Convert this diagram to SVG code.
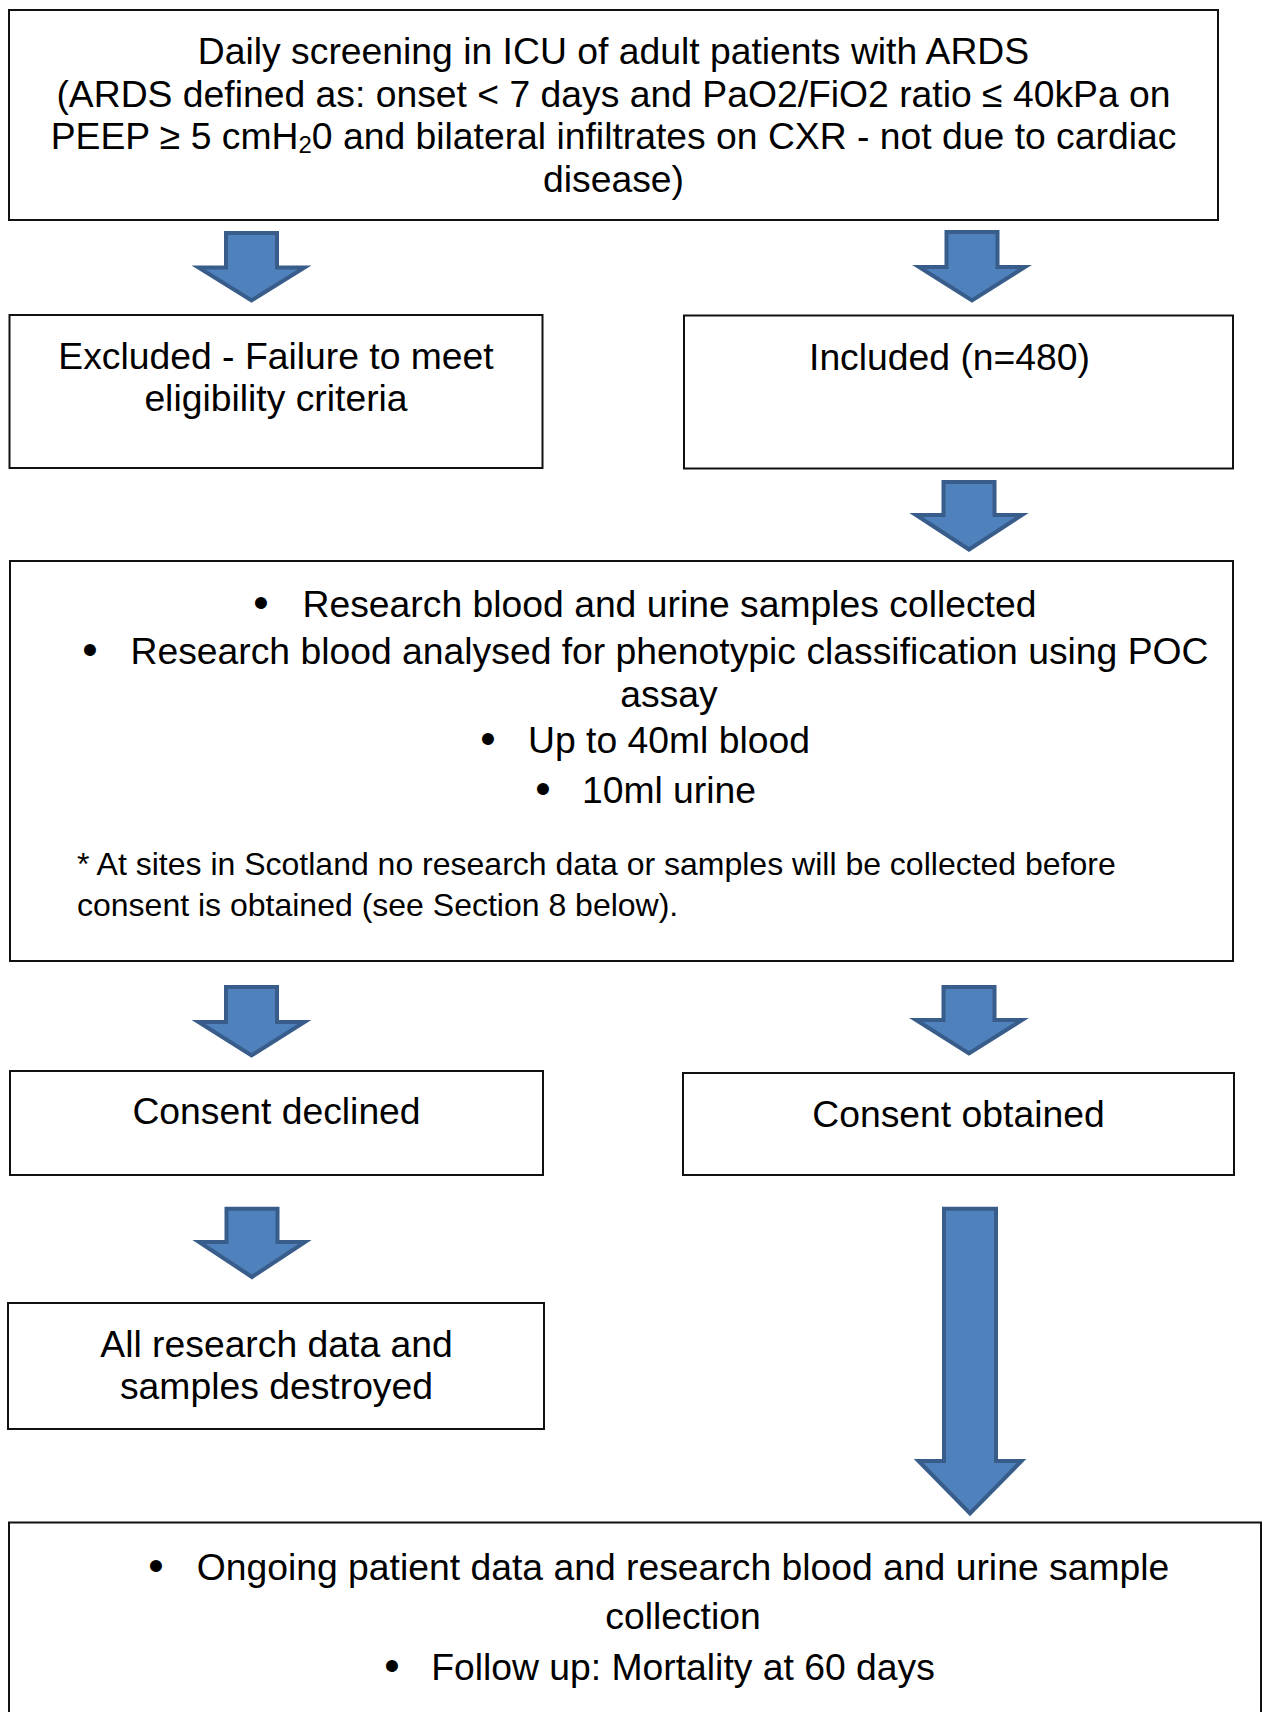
<svg xmlns="http://www.w3.org/2000/svg" width="1267" height="1712" viewBox="0 0 1267 1712">
<style>
.box{fill:#fff;stroke:#111;stroke-width:2}
.arr{fill:#4F81BD;stroke:#385D8A;stroke-width:4;stroke-linejoin:miter}
text{font-family:"Liberation Sans",Arial,sans-serif;fill:#000}
.t{font-size:37.3px;text-anchor:middle}
.b{font-size:44px;text-anchor:middle}
.f{font-size:32px}
</style>
<rect width="1267" height="1712" fill="#fff"/>
<g id="connectors">
<path class="arr" d="M226 233H277V267.5H304.5L251.5 300.5L198.5 267.5H226Z"/>
<path class="arr" d="M946.5 232H997.5V267H1025L972 300.5L919 267H946.5Z"/>
<path class="arr" d="M943.5 482H994.5V515H1022L969 549.5L916 515H943.5Z"/>
<path class="arr" d="M226 987H277V1022H304.5L251.5 1055.5L198.5 1022H226Z"/>
<path class="arr" d="M943.5 987H994.5V1020H1022L969 1053.5L916 1020H943.5Z"/>
<path class="arr" d="M226.5 1208.7H277.5V1242H305L252 1277L199 1242H226.5Z"/>
<path class="arr" d="M944 1208.7H996V1461H1021.5L970 1513.4L918.5 1461H944Z"/>
</g>
<g id="screening">
<rect class="box" x="9" y="10" width="1209" height="210"/>
<text class="t" x="613.5" y="64">Daily screening in ICU of adult patients with ARDS</text>
<text class="t" x="613.5" y="106.7">(ARDS defined as: onset &lt; 7 days and PaO2/FiO2 ratio ≤ 40kPa on</text>
<text class="t" x="613.5" y="149.3">PEEP ≥ 5 cmH<tspan font-size="24" dy="4">2</tspan><tspan dy="-4">0 and bilateral infiltrates on CXR - not due to cardiac</tspan></text>
<text class="t" x="613.5" y="192">disease)</text>
</g>
<g id="excluded">
<rect class="box" x="9.5" y="315" width="533" height="153"/>
<text class="t" x="276" y="369">Excluded - Failure to meet</text>
<text class="t" x="276" y="411">eligibility criteria</text>
</g>
<g id="included">
<rect class="box" x="684" y="315.5" width="549" height="153"/>
<text class="t" x="949.5" y="370">Included (n=480)</text>
</g>
<g id="samples">
<rect class="box" x="10" y="561" width="1223" height="400"/>
<text class="b" x="261" y="618">•</text>
<text class="t" x="669.5" y="617">Research blood and urine samples collected</text>
<text class="b" x="90" y="665">•</text>
<text class="t" x="669.5" y="664">Research blood analysed for phenotypic classification using POC</text>
<text class="t" x="669" y="707">assay</text>
<text class="b" x="488" y="754">•</text>
<text class="t" x="669" y="753">Up to 40ml blood</text>
<text class="b" x="543" y="804">•</text>
<text class="t" x="669" y="803">10ml urine</text>
<text class="f" x="77" y="875">* At sites in Scotland no research data or samples will be collected before</text>
<text class="f" x="77" y="916">consent is obtained (see Section 8 below).</text>
</g>
<g id="declined">
<rect class="box" x="10" y="1071" width="533" height="104"/>
<text class="t" x="276.5" y="1124">Consent declined</text>
</g>
<g id="obtained">
<rect class="box" x="683" y="1073" width="551" height="102"/>
<text class="t" x="958.5" y="1127">Consent obtained</text>
</g>
<g id="destroyed">
<rect class="box" x="8" y="1303" width="536" height="126"/>
<text class="t" x="276.5" y="1357.3">All research data and</text>
<text class="t" x="276.5" y="1399.3">samples destroyed</text>
</g>
<g id="followup">
<rect class="box" x="9" y="1522.5" width="1252" height="200"/>
<text class="b" x="156" y="1581">•</text>
<text class="t" x="683" y="1580">Ongoing patient data and research blood and urine sample</text>
<text class="t" x="683" y="1629">collection</text>
<text class="b" x="392" y="1681">•</text>
<text class="t" x="683" y="1680">Follow up: Mortality at 60 days</text>
</g>
</svg>
